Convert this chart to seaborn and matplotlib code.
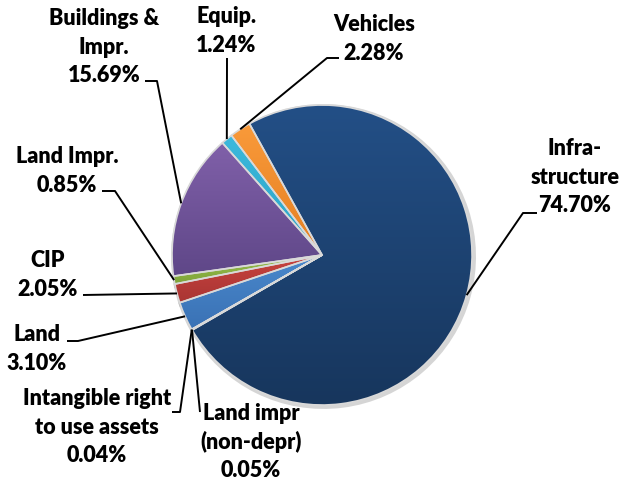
import numpy as np
import matplotlib.pyplot as plt
import seaborn as sns
from matplotlib.colors import to_rgb
from matplotlib.patches import Wedge

sns.set_theme(style='white')
plt.rcParams['font.family'] = ['Lato', 'DejaVu Sans']

# data, in the order Excel draws it (clockwise)
labels = ['Land', 'CIP', 'Land Impr.', 'Buildings &\nImpr.', 'Equip.', 'Vehicles',
          'Infra-\nstructure', 'Land impr\n(non-depr)', 'Intangible right\nto use assets']
shares = [3.10, 2.05, 0.85, 15.69, 1.24, 2.28, 74.70, 0.05, 0.04]
pct_text = ['3.10%', '2.05%', '0.85%', '15.69%', '1.24%', '2.28%', '74.70%', '0.05%', '0.04%']
explode = [0, 0, 0, 0, 0, 0, 0.067, 0, 0]

top_colors = ['#4A88CC', '#C8433F', '#98BE4E', '#8060A9', '#3CB9DC', '#F99A3A',
              '#234F86', '#8C3836', '#6E8A38']
bottom_colors = ['#3A72B5', '#A93533', '#7FA53A', '#5F4788', '#2BA3C5', '#E57F22',
                 '#17365D', '#772C2A', '#5F7530']

H = 480


def sy(y):
    # screen pixel y -> data y
    return H - y


# label layout: (text centre x, y) and leader bend points, screen px
label_pos = [(37, 349), (48, 275), (67, 171), (104, 47), (226, 31), (374, 39),
             (575, 177), (251, 442), (97, 427)]
leader_bends = [[(78, 341), (67, 341)],
                [(83, 295)],
                [(115, 191), (102, 191)],
                [(157, 81), (145, 81)],
                [(227, 58)],
                [(327, 58), (339, 58)],
                [(523, 213), (537, 213)],
                [(200, 412)],
                [(180, 412), (172, 412)]]

fig = plt.figure(figsize=(6.32, 4.8), dpi=100)
ax = fig.add_axes([0, 0, 1, 1])

centre = (322, sy(255))
radius = 150
wedges, _ = ax.pie(shares, explode=explode, center=centre, radius=radius,
                   startangle=-150.3, counterclock=False, colors=top_colors,
                   wedgeprops=dict(edgecolor='#d9d9d9', linewidth=1.2),
                   frame=True)
ax.set_xlim(0, 632)
ax.set_ylim(0, H)
ax.set_aspect('equal')
ax.axis('off')

for w, c_top, c_bot in zip(wedges, top_colors, bottom_colors):
    # soft shadow / glow behind the slice
    sh = Wedge((w.center[0] + 1.5, w.center[1] - 1.5), w.r, w.theta1, w.theta2,
               facecolor='none', edgecolor='#888888', linewidth=3.5, alpha=0.35,
               zorder=w.get_zorder() - 0.5)
    ax.add_patch(sh)
    # vertical gradient clipped to the slice
    bb = w.get_path().get_extents()
    t = np.linspace(0, 1, 64)[:, None]
    grad = (1 - t) * np.array(to_rgb(c_top)) + t * np.array(to_rgb(c_bot))
    img = ax.imshow(grad[:, None, :].repeat(2, axis=1),
                    extent=[bb.x0, bb.x1, bb.y0, bb.y1], origin='upper',
                    aspect='auto', interpolation='bilinear',
                    zorder=w.get_zorder() + 0.1)
    img.set_clip_path(w)
    w.set_facecolor('none')
    w.set_zorder(w.get_zorder() + 0.2)

for w, name, pct, (tx, ty), bends in zip(wedges, labels, pct_text, label_pos, leader_bends):
    mid = np.deg2rad((w.theta1 + w.theta2) / 2)
    ax_x = w.center[0] + w.r * np.cos(mid)
    ax_y = w.center[1] + w.r * np.sin(mid)
    xs = [ax_x] + [p[0] for p in bends]
    ys = [ax_y] + [sy(p[1]) for p in bends]
    ax.plot(xs, ys, color='black', linewidth=1.4, zorder=5, solid_capstyle='butt')
    ax.text(tx, sy(ty), f'{name}\n{pct}', ha='center', va='center',
            fontsize=15.5, fontweight='heavy', color='black', linespacing=1.42,
            zorder=6)

fig.savefig('out.png', dpi=100)
